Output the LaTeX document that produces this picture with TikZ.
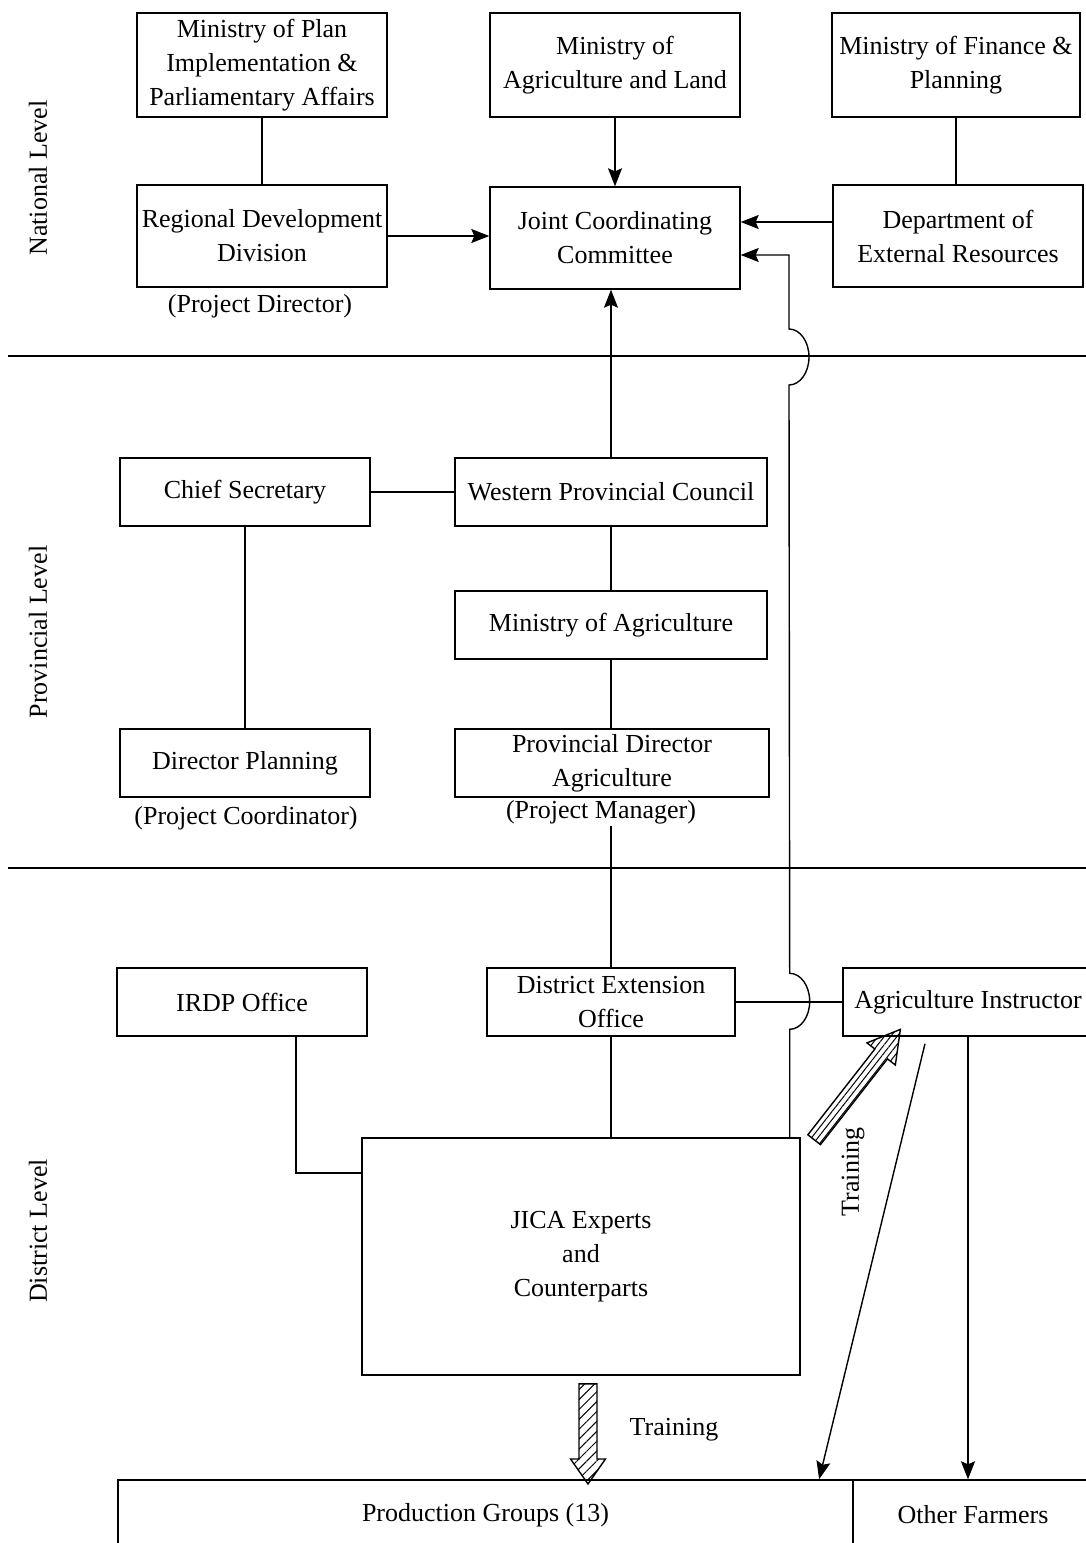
\documentclass[tikz,border=0pt]{standalone}
\usepackage{fontspec}
\setmainfont{Liberation Serif}
\usetikzlibrary{arrows.meta,shapes.arrows,patterns.meta,calc}
\begin{document}
\begin{tikzpicture}[x=0.5pt,y=-0.5pt,
  font=\fontsize{13}{17}\selectfont,
  box/.style={draw,line width=0.7pt,align=center,inner sep=0pt},
  ln/.style={line width=0.7pt},
  arr/.style={line width=0.7pt,-{Stealth[length=9pt,width=7pt,inset=1.5pt]}},
  hatch/.style={draw,line width=0.7pt,single arrow,single arrow tip angle=70,
    single arrow head extend=4.25pt,single arrow head indent=0pt,inner sep=4.25pt,
    minimum width=1pt}
]
\useasboundingbox (0,0) rectangle (1086,1543);
\fill[white] (0,0) rectangle (1086,1543);

% level separators and labels
\draw[ln] (8,356) -- (1086,356);
\draw[ln] (8,868) -- (1086,868);
\node[rotate=90] (nl) at (38,178) {National Level};
\node[rotate=90] (pl) at (38,632) {Provincial Level};
\node[rotate=90] (dl) at (38,1231) {District Level};

% national level
\node[box,minimum width=125pt,minimum height=52pt] (mpi) at (262,65) {Ministry of Plan\\Implementation \&\\Parliamentary Affairs};
\node[box,minimum width=125pt,minimum height=52pt] (mal) at (615,65) {Ministry of\\Agriculture and Land};
\node[box,minimum width=124pt,minimum height=52pt] (mfp) at (956,65) {Ministry of Finance \&\\Planning};
\node[box,minimum width=125pt,minimum height=51pt] (rdd) at (262,236) {Regional Development\\Division};
\node (pdir) at (260,306) {(Project Director)};
\node[box,minimum width=125pt,minimum height=51pt] (jcc) at (615,238) {Joint Coordinating\\Committee};
\node[box,minimum width=125pt,minimum height=51pt] (der) at (958,236) {Department of\\External Resources};

\draw[ln] (mpi.south) -- (mpi.south |- rdd.north);
\draw[arr] (mal.south) -- (jcc.north);
\draw[ln] (mfp.south) -- (mfp.south |- der.north);
\draw[arr] (rdd.east) -- (rdd.east -| jcc.west);
\draw[arr] ([yshift=7pt]der.west) -- ([yshift=7pt]der.west -| jcc.east);

% provincial level
\node[box,minimum width=125pt,minimum height=34pt] (cs) at (245,492) {Chief Secretary};
\node[box,minimum width=156pt,minimum height=34pt] (wpc) at (611,492) {Western Provincial Council};
\node[box,minimum width=156pt,minimum height=34pt] (moa) at (611,625) {Ministry of Agriculture};
\node[box,minimum width=125pt,minimum height=34pt] (dp) at (245,763) {Director Planning};
\node (pcoord) at (246,818) {(Project Coordinator)};
\node[box,minimum width=157pt,minimum height=34pt] (pda) at (612,763) {Provincial Director\\Agriculture};
\node[inner sep=1pt] (pman) at (601,812) {(Project Manager)};

\draw[ln] (cs.east) -- (cs.east -| wpc.west);
\draw[arr] (wpc.north) -- (wpc.north |- jcc.south);
\draw[ln] (wpc.south) -- (moa.north);
\draw[ln] (moa.south) -- (moa.south |- pda.north);
\draw[ln] (cs.south) -- (dp.north);

% district level
\node[box,minimum width=125pt,minimum height=34pt] (irdp) at (242,1002) {IRDP Office};
\node[box,minimum width=124pt,minimum height=34pt] (deo) at (611,1002) {District Extension\\Office};
\node[box,minimum width=125pt,minimum height=34pt] (ai) at (968,1002) {Agriculture Instructor};
\node[box,minimum width=219pt,minimum height=118.5pt] (jica) at (581,1256.5) {JICA Experts\\and\\Counterparts};
\node[box,minimum width=367.5pt,minimum height=35pt] (pg) at (485.5,1515) {Production Groups (13)};
\node[box,minimum width=120pt,minimum height=35pt] (of) at (973,1515) {Other Farmers};

\draw[ln] (pman.south -| deo.north) -- (deo.north);
\coordinate (kirdp) at (296,1173);
\draw[ln] (irdp.south -| kirdp) |- (jica.west |- kirdp);
\draw[ln] (deo.south) -- (deo.south |- jica.north);
\draw[ln] (deo.east) -- (ai.west);

% long line with jumps
\draw[arr] ([xshift=-5.5pt]jica.north east) -- ++(0,-108)
  arc[start angle=-90,end angle=90,x radius=10pt,y radius=14pt]
  -- (789,385)
  arc[start angle=-90,end angle=90,x radius=10pt,y radius=14pt]
  -- (789,255) -- (jcc.east |- 789,255);

% instructor to farmers
\draw[arr] ([shift={(-21.5pt,-3.5pt)}]ai.south) -- ($(pg.north west)!0.953!(pg.north east)$);
\draw[arr] (ai.south) -- (ai.south |- of.north);

% hatched training arrows
\node[hatch,minimum height=50pt,rotate=-90,
  pattern={Lines[angle=45,distance=3.5pt,line width=0.5pt]}] (tr1) at (588,1427.5) {};
\node (tl1) at (674,1430) {Training};
\node[hatch,minimum height=70pt,rotate=52,inner sep=3.75pt,single arrow head extend=5pt,
  single arrow tip angle=60,
  pattern={Lines[angle=52,distance=2.5pt,line width=0.5pt]}] (tr2) at (853,1090) {};
\node[rotate=90] (tl2) at (853,1172) {Training};
\end{tikzpicture}
\end{document}
